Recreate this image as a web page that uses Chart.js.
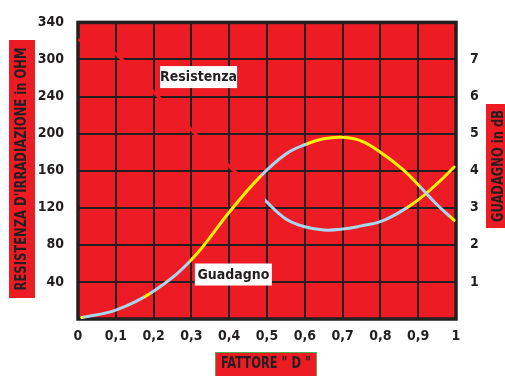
<!DOCTYPE html>
<html>
<head>
<meta charset="utf-8">
<script src="https://cdn.jsdelivr.net/npm/chart.js@4.4.0/dist/chart.umd.min.js"></script>
<style>
  html, body { margin: 0; padding: 0; background: #ffffff; }
</style>
</head>
<body>
<canvas id="chart" width="505" height="376"></canvas>
<script>
// --- dati ---
// resistenza d'irradiazione (asse sinistro) in funzione del fattore D
const resistX   = [0, 0.05, 0.1, 0.2, 0.3, 0.4, 0.5, 0.55, 0.6, 0.65, 0.7, 0.75, 0.8, 0.85, 0.9, 0.95, 0.995];
const resistOhm = [301, 297, 286, 245, 204, 165, 126, 108, 99.5, 96, 97, 100.5, 105, 115, 128.5, 146, 164];

// guadagno in dB (asse destro)
const gainX  = [0.01, 0.1, 0.2, 0.3, 0.4, 0.48, 0.55, 0.6, 0.65, 0.7, 0.75, 0.8, 0.86, 0.9, 0.95, 0.995];
const gainDb = [0.04, 0.24, 0.75, 1.6, 2.88, 3.82, 4.45, 4.7, 4.86, 4.9, 4.8, 4.5, 4.03, 3.62, 3.08, 2.66];

// etichette degli assi
const xTickLabels     = ['0', '0,1', '0,2', '0,3', '0,4', '0,5', '0,6', '0,7', '0,8', '0,9', '1'];
const leftTickLabels  = ['', '40', '80', '120', '160', '200', '240', '300', '340'];
const rightTickLabels = ['', '1', '2', '3', '4', '5', '6', '7', ''];

// etichette dentro il grafico
const noteTexts = ['Resistenza', 'Guadagno'];
const noteX     = [0.319, 0.411];
const noteY     = [261, 1.2];
const noteAxis  = ['y', 'y1'];

// --- stile ---
const RED = '#ed1c24';
const DARK = '#231f20';
const BLUE = '#a6d9f0';
const YELLOW = '#fff200';
const FONT = "'Liberation Sans Narrow', 'DejaVu Sans Condensed', Arial, sans-serif";

// tratti colorati lungo le curve (in unita' di x)
const resistBreaks = [0, 0.495, 0.87, 1.01];
const resistColors = [RED, BLUE, YELLOW];
const gainBreaks = [0, 0.012, 0.175, 0.19, 0.297, 0.483, 0.606, 0.905, 0.985, 1.01];
const gainColors = [YELLOW, BLUE, YELLOW, BLUE, YELLOW, BLUE, YELLOW, BLUE, YELLOW];

function bandGradient(chart, breaks, colors) {
  const area = chart.chartArea;
  const xs = chart.scales.x;
  if (!area || !xs) return colors[0];
  const w = area.right - area.left;
  const g = chart.ctx.createLinearGradient(area.left, 0, area.right, 0);
  const f = v => Math.min(1, Math.max(0, (xs.getPixelForValue(v) - area.left) / w));
  for (let i = 0; i < colors.length; i++) {
    g.addColorStop(f(breaks[i]), colors[i]);
    g.addColorStop(f(breaks[i + 1]), colors[i]);
  }
  return g;
}

function drawFitText(ctx, text, cx, cy, size, targetW, angle) {
  ctx.save();
  ctx.translate(cx, cy);
  ctx.rotate(angle || 0);
  ctx.font = 'bold ' + size + 'px ' + FONT;
  const w = ctx.measureText(text).width;
  if (targetW) ctx.scale(targetW / w, 1);
  ctx.textAlign = 'center';
  ctx.textBaseline = 'middle';
  ctx.fillStyle = DARK;
  ctx.fillText(text, 0, 0);
  ctx.restore();
}

const framePlugin = {
  id: 'frame_and_labels',

  beforeDraw: function(chart) {
    const ctx = chart.ctx;
    const a = chart.chartArea;
    ctx.save();
    ctx.fillStyle = '#ffffff';
    ctx.fillRect(0, 0, chart.width, chart.height);
    ctx.fillStyle = RED;
    ctx.fillRect(a.left, a.top, a.right - a.left, a.bottom - a.top);
    ctx.restore();
  },

  beforeDatasetsDraw: function(chart) {
    const ctx = chart.ctx;
    const a = chart.chartArea;
    ctx.save();
    ctx.strokeStyle = DARK;
    ctx.lineWidth = 3.5;
    ctx.strokeRect(a.left, a.top, a.right - a.left, a.bottom - a.top);
    ctx.restore();
  },

  afterDraw: function(chart) {
    const ctx = chart.ctx;

    // titoli degli assi su riquadro rosso
    ctx.save();
    ctx.fillStyle = RED;
    ctx.fillRect(9, 40, 26, 258);
    ctx.fillRect(486, 104, 24, 124);
    ctx.fillRect(215, 352, 102, 26);
    ctx.strokeStyle = '#4caf50';
    ctx.lineWidth = 1;
    ctx.strokeRect(215.5, 352.5, 101, 26);
    ctx.restore();
    drawFitText(ctx, "RESISTENZA D'IRRADIAZIONE in OHM", 22, 169, 15, 243, -Math.PI / 2);
    drawFitText(ctx, 'GUADAGNO in dB', 499, 166, 15, 112, -Math.PI / 2);
    drawFitText(ctx, 'FATTORE " D "', 266, 364, 15, 90, 0);

    // etichette delle curve
    for (let i = 0; i < noteTexts.length; i++) {
      const px = chart.scales.x.getPixelForValue(noteX[i]);
      const py = chart.scales[noteAxis[i]].getPixelForValue(noteY[i]);
      ctx.save();
      ctx.fillStyle = '#ffffff';
      ctx.fillRect(px - 38.5, py - 11, 77, 22);
      ctx.restore();
      drawFitText(ctx, noteTexts[i], px, py + 0.5, 14, null, 0);
    }
  }
};

function initChart() {
  Chart.register(framePlugin);
  const tickFont = { family: FONT, size: 14, weight: 'bold' };
  const ctx = document.getElementById('chart');

  return new Chart(ctx, {
    type: 'line',
    data: {
      datasets: [{
        label: 'Guadagno',
        data: gainX.map((x, i) => ({ x: x, y: gainDb[i] })),
        yAxisID: 'y1',
        order: 0,
        fill: false,
        borderWidth: 3,
        borderCapStyle: 'round',
        tension: 0.4,
        pointRadius: 0,
        borderColor: c => bandGradient(c.chart, gainBreaks, gainColors)
      }, {
        label: 'Resistenza',
        data: resistX.map((x, i) => ({ x: x, y: resistOhm[i] })),
        yAxisID: 'y',
        order: 1,
        fill: false,
        borderWidth: 3,
        borderCapStyle: 'round',
        tension: 0.4,
        pointRadius: 0,
        borderColor: c => bandGradient(c.chart, resistBreaks, resistColors)
      }]
    },
    options: {
      responsive: false,
      animation: false,
      devicePixelRatio: 1,
      layout: { autoPadding: false, padding: { top: 16, left: 0, right: 0, bottom: 0 } },
      plugins: {
        legend: { display: false },
        tooltip: { enabled: false }
      },
      scales: {
        x: {
          type: 'linear',
          min: 0,
          max: 1,
          afterFit: s => { s.height = 57; },
          border: { display: false },
          grid: { color: DARK, lineWidth: 2, drawTicks: false },
          ticks: {
            stepSize: 0.1,
            padding: 9,
            color: DARK,
            font: tickFont,
            maxRotation: 0,
            autoSkip: false,
            callback: (v, i) => xTickLabels[i]
          }
        },
        y: {
          position: 'left',
          min: 0,
          max: 320,
          afterFit: s => { s.width = 78; },
          border: { display: false },
          grid: { color: DARK, lineWidth: 2, drawTicks: false },
          ticks: {
            stepSize: 40,
            padding: 14,
            color: DARK,
            font: tickFont,
            callback: (v, i) => leftTickLabels[i]
          }
        },
        y1: {
          position: 'right',
          min: 0,
          max: 8,
          afterFit: s => { s.width = 49; },
          border: { display: false },
          grid: { display: false, drawTicks: false },
          ticks: {
            stepSize: 1,
            padding: 14,
            color: DARK,
            font: tickFont,
            callback: (v, i) => rightTickLabels[i]
          }
        }
      }
    }
  });
}

g_chart = initChart();
</script>
</body>
</html>
